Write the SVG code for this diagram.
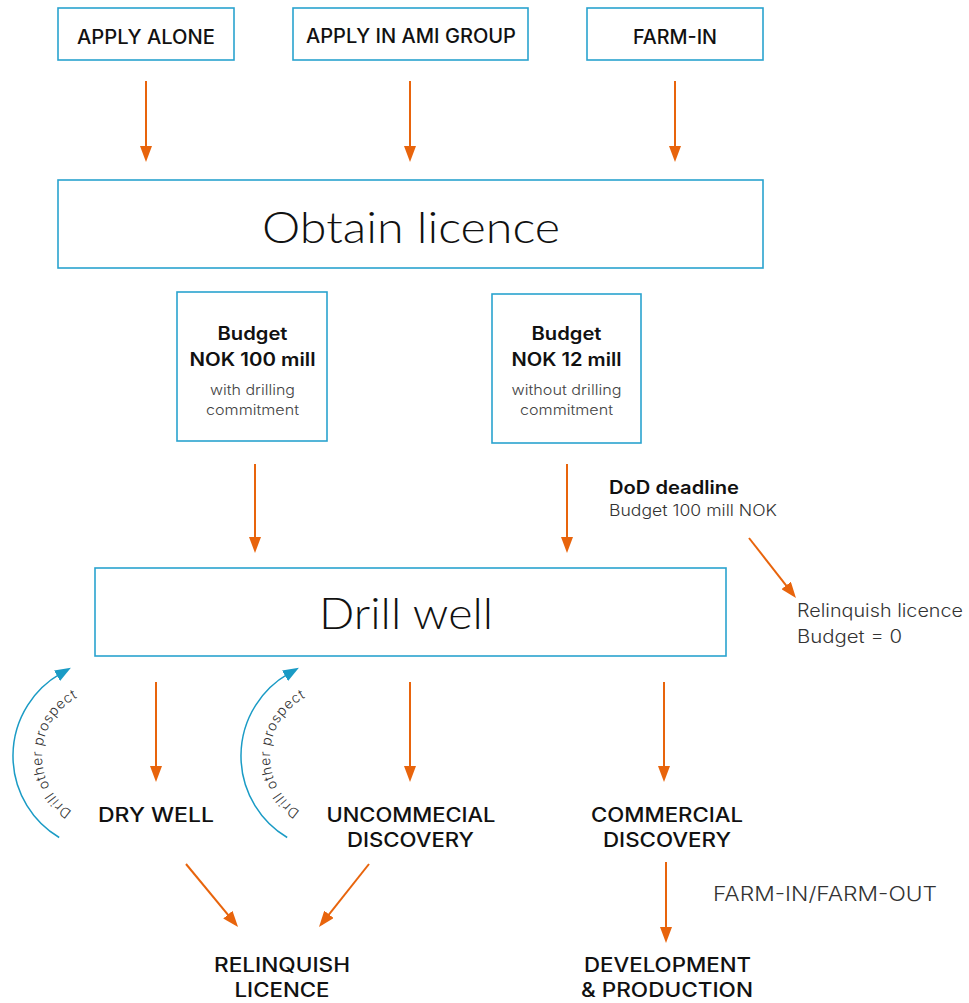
<svg xmlns="http://www.w3.org/2000/svg" width="969" height="1003" viewBox="0 0 969 1003">
<style>
.box{fill:#fff;stroke:#2aa3cf;stroke-width:1.6}
.t{font-family:Inter,"Open Sans","Liberation Sans",sans-serif;fill:#111;text-anchor:middle}
.cap{font-size:19.5px;font-weight:500}
.big{font-family:Lato,Inter,"Liberation Sans",sans-serif;font-size:43px;font-weight:300}
.bud{font-size:18px;font-weight:600}
.sm{font-size:14.5px;font-weight:300;fill:#444}
.lt{font-weight:300;fill:#333;text-anchor:start}
.arr{stroke:#e8640c;stroke-width:2;fill:none;marker-end:url(#ah)}
.arc{stroke:#1a9bc5;stroke-width:1.5;fill:none;marker-end:url(#bh)}
.drl{font-family:Inter,"Open Sans","Liberation Sans",sans-serif;font-size:14px;font-weight:300;fill:#333;letter-spacing:0.7px}
</style>
<defs>
<marker id="ah" viewBox="0 0 16 12" refX="12" refY="6" markerWidth="16" markerHeight="12" markerUnits="userSpaceOnUse" orient="auto"><path d="M0,0 L16,6 L0,12 z" fill="#e8640c"/></marker>
<marker id="bh" viewBox="0 0 16 12" refX="4" refY="6" markerWidth="16" markerHeight="12" markerUnits="userSpaceOnUse" orient="auto"><path d="M0,0 L16,6 L0,12 z" fill="#1a9bc5"/></marker>
<path id="tp1" d="M96.54,821 A66,66 0 0 1 103.4,690.16"/>
<path id="tp2" d="M324.54,821 A66,66 0 0 1 331.4,690.16"/>
</defs>
<rect width="969" height="1003" fill="#fff"/>

<g id="apply-alone"><rect class="box" x="58" y="8" width="176" height="52"/><text class="t cap" x="146" y="44" textLength="138" lengthAdjust="spacingAndGlyphs">APPLY ALONE</text></g>
<g id="apply-ami"><rect class="box" x="293" y="8" width="235" height="52"/><text class="t cap" x="411" y="43" textLength="210" lengthAdjust="spacingAndGlyphs">APPLY IN AMI GROUP</text></g>
<g id="farm-in"><rect class="box" x="587" y="8" width="176" height="52"/><text class="t cap" x="675" y="44" textLength="84" lengthAdjust="spacingAndGlyphs">FARM-IN</text></g>

<g id="obtain-licence"><rect class="box" x="58" y="180" width="705" height="88"/><text class="t big" x="411" y="243" textLength="298" lengthAdjust="spacingAndGlyphs">Obtain licence</text></g>

<g id="budget-100"><rect class="box" x="177" y="292" width="150" height="149"/>
<text class="t bud" x="252.5" y="340" textLength="70" lengthAdjust="spacingAndGlyphs">Budget</text><text class="t bud" x="252.5" y="366" textLength="126" lengthAdjust="spacingAndGlyphs">NOK 100 mill</text>
<text class="t sm" x="252.5" y="395" textLength="85" lengthAdjust="spacingAndGlyphs">with drilling</text><text class="t sm" x="252.5" y="415" textLength="93" lengthAdjust="spacingAndGlyphs">commitment</text></g>

<g id="budget-12"><rect class="box" x="492" y="294" width="149" height="149"/>
<text class="t bud" x="566.5" y="340" textLength="70" lengthAdjust="spacingAndGlyphs">Budget</text><text class="t bud" x="566.5" y="366" textLength="110" lengthAdjust="spacingAndGlyphs">NOK 12 mill</text>
<text class="t sm" x="566.5" y="395" textLength="110" lengthAdjust="spacingAndGlyphs">without drilling</text><text class="t sm" x="566.5" y="415" textLength="93" lengthAdjust="spacingAndGlyphs">commitment</text></g>

<g id="dod"><text class="t bud" x="609" y="494" style="text-anchor:start" textLength="130" lengthAdjust="spacingAndGlyphs">DoD deadline</text>
<text class="t lt" x="609" y="516" style="font-size:15.5px" textLength="168" lengthAdjust="spacingAndGlyphs">Budget 100 mill NOK</text></g>

<g id="relinquish-budget0"><text class="t lt" x="797" y="617" style="font-size:18px" textLength="166" lengthAdjust="spacingAndGlyphs">Relinquish licence</text>
<text class="t lt" x="797" y="643" style="font-size:18px" textLength="105" lengthAdjust="spacingAndGlyphs">Budget = 0</text></g>

<g id="drill-well"><rect class="box" x="95" y="568" width="631" height="88"/><text class="t big" x="406" y="629" textLength="174" lengthAdjust="spacingAndGlyphs">Drill well</text></g>

<g id="dry-well"><text class="t cap" x="156" y="822" textLength="116" lengthAdjust="spacingAndGlyphs">DRY WELL</text></g>
<g id="uncommercial"><text class="t cap" x="411" y="822" textLength="169" lengthAdjust="spacingAndGlyphs">UNCOMMECIAL</text><text class="t cap" x="410.5" y="847" textLength="127" lengthAdjust="spacingAndGlyphs">DISCOVERY</text></g>
<g id="commercial"><text class="t cap" x="667" y="822" textLength="152" lengthAdjust="spacingAndGlyphs">COMMERCIAL</text><text class="t cap" x="667" y="847" textLength="128" lengthAdjust="spacingAndGlyphs">DISCOVERY</text></g>
<g id="farm-label"><text class="t lt" x="713" y="901" style="font-size:19.5px" textLength="224" lengthAdjust="spacingAndGlyphs">FARM-IN/FARM-OUT</text></g>
<g id="relinquish-licence"><text class="t cap" x="282" y="972" textLength="136" lengthAdjust="spacingAndGlyphs">RELINQUISH</text><text class="t cap" x="282" y="997" textLength="95" lengthAdjust="spacingAndGlyphs">LICENCE</text></g>
<g id="development"><text class="t cap" x="667.5" y="972" textLength="167" lengthAdjust="spacingAndGlyphs">DEVELOPMENT</text><text class="t cap" x="667" y="997" textLength="172" lengthAdjust="spacingAndGlyphs">&amp; PRODUCTION</text></g>

<g id="drill-other-1"><text class="drl"><textPath href="#tp1" startOffset="50%" text-anchor="middle">Drill other prospect</textPath></text></g>
<g id="drill-other-2"><text class="drl"><textPath href="#tp2" startOffset="50%" text-anchor="middle">Drill other prospect</textPath></text></g>

<g id="connectors">
<path class="arr" d="M146,81 V158"/>
<path class="arr" d="M410,81 V158"/>
<path class="arr" d="M675,81 V158"/>
<path class="arr" d="M255,464 V549"/>
<path class="arr" d="M567,464 V549"/>
<path class="arr" d="M749,538 L793.5,594.9"/>
<path class="arr" d="M156,682 V778"/>
<path class="arr" d="M410,682 V778"/>
<path class="arr" d="M664,682 V778"/>
<path class="arr" d="M186,864 L235.5,923.9"/>
<path class="arr" d="M369,864 L321.5,923.8"/>
<path class="arr" d="M666,862 V939"/>
<path class="arc" d="M59.2,837.5 A95,95 0 0 1 60.5,673.7"/>
<path class="arc" d="M287.2,837.5 A95,95 0 0 1 288.5,673.7"/>
</g>
</svg>
